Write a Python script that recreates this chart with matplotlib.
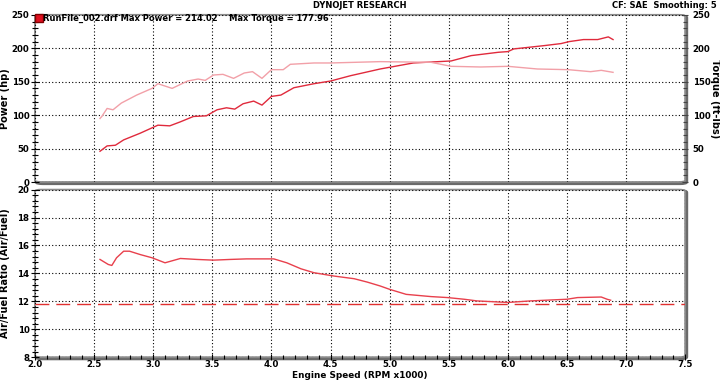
import numpy as np
import matplotlib
matplotlib.use("Agg")
import matplotlib.pyplot as plt
from matplotlib.patches import FancyBboxPatch
from matplotlib.ticker import MultipleLocator

# dyno run, engine speed in RPM x1000
power_rpm = [2.55, 2.565, 2.61, 2.68, 2.75, 2.89, 2.99, 3.04, 3.14, 3.23, 3.34, 3.45, 3.54,
             3.62, 3.69, 3.76, 3.85, 3.92, 4.0, 4.08, 4.19, 4.36, 4.5, 4.67, 4.92, 5.2,
             5.52, 5.69, 5.92, 6.0, 6.05, 6.31, 6.45, 6.52, 6.64, 6.76, 6.85, 6.89]
power_hp = [46, 48, 54, 55, 63, 73, 81, 85, 84, 90, 98, 99, 108,
            111, 109, 117, 121, 115, 128, 130, 141, 147, 151, 159, 169, 178,
            181, 189, 194, 195, 199, 204, 207, 210, 213, 213, 217, 213]

torque_rpm = [2.55, 2.565, 2.61, 2.66, 2.73, 2.86, 2.99, 3.04, 3.16, 3.29, 3.38, 3.44, 3.51,
              3.59, 3.68, 3.77, 3.84, 3.92, 4.0, 4.1, 4.16, 4.36, 4.5, 4.92, 5.35,
              5.52, 5.77, 6.0, 6.25, 6.51, 6.7, 6.79, 6.89]
torque_ftlb = [95, 98, 110, 108, 118, 130, 140, 147, 140, 151, 154, 152, 160,
               161, 155, 163, 165, 155, 168, 168, 176, 178, 178, 180, 179,
               173, 172, 173, 169, 168, 165, 167, 164]

afr_rpm = [2.55, 2.62, 2.65, 2.69, 2.75, 2.8, 2.89, 2.99, 3.1, 3.23, 3.37, 3.51, 3.65,
           3.79, 3.91, 4.02, 4.13, 4.25, 4.36, 4.53, 4.7, 4.81, 4.92, 5.0, 5.14,
           5.35, 5.49, 5.63, 5.74, 6.0, 6.19, 6.5, 6.59, 6.79, 6.84, 6.87]
afr = [15.0, 14.64, 14.57, 15.12, 15.59, 15.59, 15.35, 15.12, 14.76, 15.07, 15.0, 14.95, 15.0,
       15.04, 15.04, 15.04, 14.76, 14.33, 14.05, 13.81, 13.62, 13.38, 13.1, 12.86, 12.5,
       12.34, 12.27, 12.15, 12.03, 11.92, 12.03, 12.15, 12.27, 12.31, 12.15, 12.08]
afr_target = 11.8

x_ticks = np.arange(2.0, 7.51, 0.5)

fs = 6.2
lfs = 7
tfs = 6.0
fig = plt.figure(figsize=(7.2, 3.8), dpi=100)
ax1 = fig.add_axes([0.0486, 0.521, 0.903, 0.440])
ax2 = fig.add_axes([0.0486, 0.060, 0.903, 0.441])


def frame(ax):
    for s in ax.spines.values():
        s.set_visible(False)
    shadow = FancyBboxPatch((0.002, -0.008), 1.0, 1.0, boxstyle="round,pad=0,rounding_size=0.01",
                            transform=ax.transAxes, facecolor="none", edgecolor="#6a6a6a",
                            linewidth=2.5, clip_on=False, zorder=0.5)
    box = FancyBboxPatch((0, 0), 1.0, 1.0, boxstyle="round,pad=0,rounding_size=0.01",
                         transform=ax.transAxes, facecolor="white", edgecolor="#8a8a8a",
                         linewidth=1.3, clip_on=False, zorder=0.6)
    ax.add_patch(shadow)
    ax.add_patch(box)
    ax.set_facecolor("none")
    ax.grid(True, which="major", color="black", linestyle=(0, (1, 2)), linewidth=0.8)
    ax.tick_params(which="both", direction="inout", labelsize=fs, width=0.8, color="black", pad=1)
    ax.tick_params(which="major", length=6)
    ax.tick_params(which="minor", length=4)
    ax.set_xlim(2.0, 7.5)
    ax.set_xticks(x_ticks)


# top panel: power and torque
ax1.plot(power_rpm, power_hp, color="#e02a3c", linewidth=1.0, zorder=3)
ax1.plot(torque_rpm, torque_ftlb, color="#f2a0a8", linewidth=1.0, zorder=3)
ax1.set_ylim(0, 250)
ax1.set_yticks(np.arange(0, 251, 50))
ax1.yaxis.set_minor_locator(MultipleLocator(10))
frame(ax1)
ax1.tick_params(axis="x", which="both", labelbottom=False, length=0)
for lab in ax1.get_yticklabels():
    lab.set_fontweight("bold")
ax1.set_ylabel("Power (hp)", fontsize=lfs, fontweight="bold")
ax1.yaxis.set_label_coords(-0.038, 0.5)

ax1r = ax1.twinx()
ax1r.set_ylim(0, 250)
ax1r.set_yticks(np.arange(0, 251, 50))
ax1r.yaxis.set_minor_locator(MultipleLocator(10))
ax1r.tick_params(axis="y", which="both", direction="inout", width=0.8, color="#444444",
                 labelsize=fs, pad=3)
ax1r.tick_params(axis="y", which="major", length=5)
ax1r.tick_params(axis="y", which="minor", length=3)
for s in ax1r.spines.values():
    s.set_visible(False)
for lab in ax1r.get_yticklabels():
    lab.set_fontweight("bold")
ax1r.set_ylabel("Torque (ft-lbs)", fontsize=lfs, fontweight="bold", rotation=270, va="center")
ax1r.yaxis.set_label_coords(1.046, 0.5)

ax1.plot([2.03], [245], marker="s", markersize=6, color="#e01020", markeredgecolor="#800000",
         clip_on=False, zorder=5)
ax1.text(2.07, 245, "RunFile_002.drf Max Power = 214.02    Max Torque = 177.96",
         fontsize=tfs, fontweight="bold", va="center", ha="left", zorder=5)

# bottom panel: air/fuel ratio
ax2.plot(afr_rpm, afr, color="#e8404c", linewidth=1.0, zorder=3)
ax2.axhline(afr_target, color="#e03030", linewidth=1.0, dashes=(10, 5), zorder=2)
ax2.set_ylim(8, 20)
ax2.set_yticks(np.arange(8, 21, 2))
ax2.yaxis.set_minor_locator(MultipleLocator(0.4))
frame(ax2)
ax2.xaxis.set_minor_locator(MultipleLocator(0.1))
ax2.tick_params(axis="x", which="major", length=4, pad=0)
ax2.tick_params(axis="x", which="minor", length=3)
ax2.set_xticklabels([f"{v:.1f}" for v in x_ticks], fontweight="bold")
for lab in ax2.get_yticklabels():
    lab.set_fontweight("bold")
ax2.set_ylabel("Air/Fuel Ratio (Air/Fuel)", fontsize=lfs, fontweight="bold")
ax2.yaxis.set_label_coords(-0.038, 0.5)
ax2.set_xlabel("Engine Speed (RPM x1000)", fontsize=6.4, fontweight="bold", va="center")
ax2.xaxis.set_label_coords(0.5, -0.109)

fig.text(0.5, 0.985, "DYNOJET RESEARCH", fontsize=tfs, fontweight="bold", ha="center", va="center")
fig.text(0.995, 0.985, "CF: SAE  Smoothing: 5", fontsize=tfs, fontweight="bold", ha="right", va="center")

fig.savefig("out.png", dpi=100)
